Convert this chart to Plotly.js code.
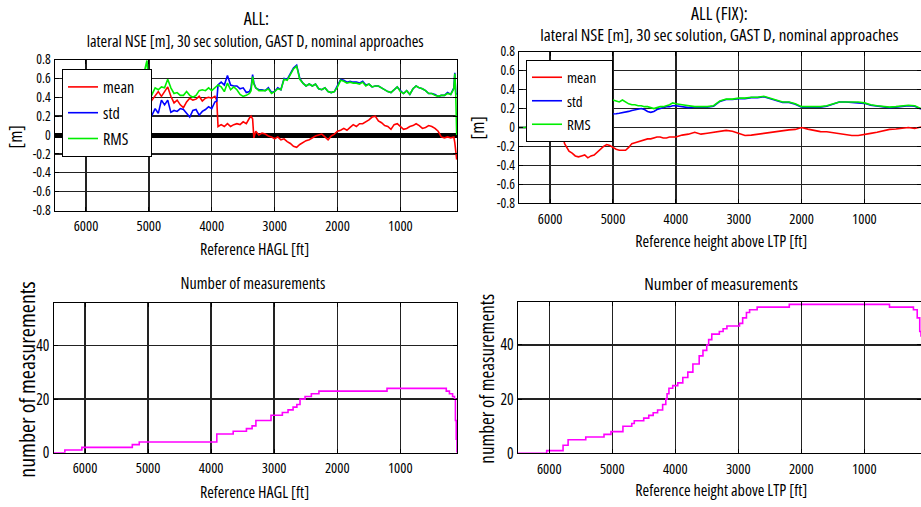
<!DOCTYPE html>
<html>
<head>
<meta charset="utf-8">
<script src="https://cdn.plot.ly/plotly-3.0.1.min.js"></script>
<style>
  html, body { margin: 0; padding: 0; background: #fff; }
  #chart { width: 921px; height: 507px; }
  /* narrow lettering for every label of the figure */
  #chart text { font-stretch: condensed; }
</style>
</head>
<body>
<div id="chart"></div>
<script>
// ---- ALL: lateral NSE statistics versus reference HAGL [ft] ----
const allFt = [
  5090, 5060, 5030, 5000, 4950, 4900, 4850, 4800, 4750, 4700,
  4650, 4600, 4550, 4500, 4450, 4400, 4350, 4300, 4250, 4200,
  4150, 4100, 4050, 4000, 3950, 3920, 3900, 3850, 3800, 3750,
  3700, 3650, 3600, 3550, 3500, 3450, 3400, 3375, 3350, 3330,
  3300, 3250, 3200, 3150, 3100, 3050, 3000, 2950, 2900, 2850,
  2800, 2750, 2700, 2650, 2600, 2550, 2500, 2450, 2400, 2350,
  2300, 2250, 2200, 2150, 2100, 2050, 2000, 1950, 1900, 1850,
  1800, 1750, 1700, 1650, 1600, 1550, 1500, 1450, 1400, 1350,
  1300, 1250, 1200, 1150, 1100, 1050, 1000, 950, 900, 850,
  800, 750, 700, 650, 600, 550, 500, 450, 400, 350,
  300, 250, 200, 150, 135, 120, 105
];
const allMean = [
  0.55, 0.52, 0.45, 0.32, 0.37, 0.42, 0.46, 0.41, 0.46, 0.51,
  0.41, 0.34, 0.37, 0.32, 0.29, 0.35, 0.39, 0.37, 0.38, 0.41,
  0.36, 0.39, 0.40, 0.39, 0.41, 0.37, 0.09, 0.11, 0.09, 0.12,
  0.09, 0.11, 0.12, 0.11, 0.14, 0.12, 0.18, 0.20, 0.17, -0.03,
  0.04, 0.00, 0.02, 0.01, -0.01, -0.02, -0.04, -0.02, -0.05, -0.04,
  -0.07, -0.09, -0.12, -0.13, -0.10, -0.08, -0.06, -0.05, -0.03, -0.01,
  0.00, 0.01, -0.02, -0.05, -0.01, 0.01, 0.04, 0.05, 0.07, 0.05,
  0.08, 0.11, 0.09, 0.12, 0.12, 0.14, 0.16, 0.19, 0.20, 0.15,
  0.13, 0.10, 0.09, 0.06, 0.11, 0.12, 0.09, 0.06, 0.07, 0.09,
  0.10, 0.12, 0.10, 0.07, 0.08, 0.10, 0.09, 0.07, 0.04, -0.02,
  -0.03, -0.02, -0.03, -0.02, -0.08, -0.20, -0.26
];
const allStd = [
  0.30, 0.26, 0.22, 0.24, 0.21, 0.28, 0.23, 0.37, 0.32, 0.37,
  0.24, 0.26, 0.25, 0.28, 0.27, 0.23, 0.19, 0.26, 0.27, 0.21,
  0.25, 0.27, 0.30, 0.28, 0.35, 0.36, 0.53, 0.56, 0.53, 0.63,
  0.53, 0.52, 0.52, 0.49, 0.50, 0.45, 0.46, 0.50, 0.64, 0.55,
  0.50, 0.48, 0.48, 0.47, 0.50, 0.45, 0.46, 0.50, 0.48, 0.60,
  0.59, 0.65, 0.71, 0.74, 0.60, 0.55, 0.52, 0.54, 0.52, 0.54,
  0.49, 0.48, 0.50, 0.46, 0.45, 0.46, 0.52, 0.59, 0.58, 0.56,
  0.57, 0.56, 0.56, 0.55, 0.57, 0.53, 0.54, 0.51, 0.52, 0.52,
  0.50, 0.48, 0.46, 0.45, 0.48, 0.51, 0.47, 0.44, 0.47, 0.43,
  0.49, 0.52, 0.50, 0.49, 0.47, 0.44, 0.44, 0.43, 0.41, 0.42,
  0.42, 0.45, 0.43, 0.50, 0.66, 0.44, 0.43
];
const allRms = [
  0.62, 0.70, 0.79, 0.47, 0.43, 0.50, 0.48, 0.51, 0.50, 0.59,
  0.50, 0.44, 0.45, 0.42, 0.42, 0.46, 0.42, 0.40, 0.42, 0.47,
  0.48, 0.47, 0.50, 0.47, 0.50, 0.52, 0.53, 0.51, 0.46, 0.55,
  0.48, 0.51, 0.48, 0.43, 0.41, 0.42, 0.44, 0.47, 0.62, 0.54,
  0.50, 0.47, 0.47, 0.47, 0.49, 0.44, 0.46, 0.49, 0.48, 0.59,
  0.58, 0.64, 0.70, 0.73, 0.59, 0.55, 0.52, 0.54, 0.52, 0.54,
  0.49, 0.48, 0.50, 0.46, 0.45, 0.46, 0.51, 0.58, 0.57, 0.55,
  0.56, 0.55, 0.55, 0.54, 0.56, 0.52, 0.54, 0.51, 0.52, 0.52,
  0.50, 0.48, 0.46, 0.45, 0.48, 0.51, 0.46, 0.44, 0.47, 0.43,
  0.49, 0.52, 0.50, 0.49, 0.47, 0.44, 0.44, 0.42, 0.41, 0.42,
  0.42, 0.44, 0.43, 0.49, 0.65, 0.43, 0.00
];

// ---- ALL (FIX): lateral NSE statistics versus height above LTP [ft] ----
const fixFt = [
  6500, 6400, 6300, 6200, 6100, 6070, 6030, 6000, 5950, 5900,
  5850, 5800, 5770, 5700, 5650, 5600, 5550, 5500, 5450, 5400,
  5350, 5300, 5250, 5200, 5150, 5100, 5050, 5000, 4950, 4900,
  4850, 4800, 4750, 4700, 4650, 4600, 4550, 4500, 4450, 4400,
  4350, 4300, 4250, 4200, 4150, 4100, 4050, 4000, 3900, 3800,
  3700, 3600, 3500, 3400, 3300, 3200, 3100, 3000, 2900, 2800,
  2700, 2600, 2500, 2400, 2300, 2200, 2100, 2000, 1900, 1800,
  1700, 1600, 1500, 1400, 1300, 1200, 1100, 1000, 900, 800,
  700, 600, 500, 400, 300, 200, 100
];
const fixMean = [
  0, 0, 0, 0, -0.02, -0.08, -0.10, -0.07, -0.03, -0.01,
  -0.03, -0.08, -0.17, -0.25, -0.27, -0.30, -0.31, -0.30, -0.29, -0.32,
  -0.30, -0.29, -0.26, -0.22, -0.20, -0.18, -0.19, -0.21, -0.23, -0.24,
  -0.24, -0.24, -0.21, -0.17, -0.16, -0.15, -0.14, -0.13, -0.12, -0.12,
  -0.11, -0.10, -0.10, -0.11, -0.11, -0.10, -0.10, -0.10, -0.08, -0.07,
  -0.05, -0.07, -0.06, -0.05, -0.04, -0.03, -0.04, -0.06, -0.085, -0.08,
  -0.07, -0.065, -0.05, -0.045, -0.035, -0.025, -0.02, 0.0, -0.017, -0.033,
  -0.043, -0.045, -0.055, -0.065, -0.075, -0.085, -0.085, -0.07, -0.062, -0.05,
  -0.035, -0.02, -0.015, -0.01, 0.0, -0.01, 0.005
];
const fixStd = [
  0, 0, 0, 0.03, 0.06, 0.07, 0.08, 0.09, 0.10, 0.11,
  0.12, 0.12, 0.12, 0.12, 0.13, 0.13, 0.13, 0.13, 0.13, 0.13,
  0.13, 0.14, 0.14, 0.14, 0.14, 0.14, 0.14, 0.14, 0.145, 0.15,
  0.155, 0.16, 0.17, 0.18, 0.185, 0.19, 0.20, 0.19, 0.17, 0.16,
  0.17, 0.19, 0.20, 0.21, 0.22, 0.22, 0.23, 0.23, 0.22, 0.21,
  0.215, 0.215, 0.215, 0.225, 0.275, 0.295, 0.295, 0.305, 0.305, 0.315,
  0.315, 0.325, 0.305, 0.285, 0.265, 0.265, 0.245, 0.215, 0.215, 0.215,
  0.215, 0.225, 0.245, 0.27, 0.27, 0.265, 0.265, 0.255, 0.235, 0.225,
  0.215, 0.21, 0.215, 0.225, 0.23, 0.225, 0.195
];
const fixRms = [
  0, 0, 0.02, 0.08, 0.12, 0.14, 0.16, 0.18, 0.20, 0.22,
  0.24, 0.26, 0.28, 0.31, 0.32, 0.33, 0.34, 0.34, 0.33, 0.34,
  0.33, 0.32, 0.31, 0.30, 0.29, 0.29, 0.29, 0.29, 0.28, 0.27,
  0.29, 0.27, 0.25, 0.24, 0.24, 0.23, 0.23, 0.22, 0.22, 0.21,
  0.20, 0.21, 0.22, 0.22, 0.23, 0.24, 0.26, 0.25, 0.24, 0.23,
  0.22, 0.22, 0.22, 0.23, 0.28, 0.30, 0.30, 0.31, 0.31, 0.32,
  0.32, 0.33, 0.31, 0.29, 0.27, 0.27, 0.25, 0.22, 0.22, 0.22,
  0.22, 0.23, 0.25, 0.27, 0.27, 0.27, 0.27, 0.26, 0.24, 0.23,
  0.22, 0.215, 0.22, 0.23, 0.235, 0.23, 0.20
];

// ---- number of measurements (step changes) ----
const countAllFt = [
  6500, 6320, 6050, 5250, 5140, 3910, 3650, 3440, 3350, 3290,
  3050, 2870, 2780, 2700, 2640, 2590, 2510, 2410, 2290, 1210,
  270, 220, 170, 140, 125, 112, 100
];
const countAll = [
  0, 1, 2, 3, 4, 7, 8, 9, 10, 12,
  14, 15, 16, 17, 18, 20, 21, 22, 23, 24,
  23, 22, 21, 20, 12, 5, 0
];
const countFixFt = [
  6500, 6040, 5780, 5700, 5420, 5130, 5020, 4830, 4690, 4650,
  4500, 4420, 4350, 4280, 4200, 4150, 4130, 4100, 4040, 3960,
  3880, 3800, 3720, 3620, 3560, 3500, 3470, 3420, 3300, 3240,
  3180, 2980, 2930, 2870, 2820, 2700, 2190, 600, 220, 160,
  120, 100
];
const countFix = [
  0, 1, 3, 5, 6, 7, 8, 10, 11, 12,
  13, 14, 15, 16, 18, 20, 22, 24, 25, 26,
  28, 30, 33, 36, 38, 40, 42, 44, 45, 46,
  47, 48, 50, 52, 53, 54, 55, 54, 53, 50,
  45, 43
];

// ---- tick labels ----
const heightTicks = [6000, 5000, 4000, 3000, 2000, 1000];
const heightLabels = ['6000', '5000', '4000', '3000', '2000', '1000'];
const nseTicks = [-0.8, -0.6, -0.4, -0.2, 0, 0.2, 0.4, 0.6, 0.8];
const nseLabels = ['-0.8', '-0.6', '-0.4', '-0.2', '0', '0.2', '0.4', '0.6', '0.8'];
const countTicks = [0, 20, 40];
const countLabels = ['0', '20', '40'];

const FONT = "'Open Sans', sans-serif";
const RED = '#ff0000', BLUE = '#0000ff', GREEN = '#00ee00', MAGENTA = '#ff00ff';

function statTrace(x, y, name, color, xa, ya, legend, grp) {
  return {
    type: 'scatter', mode: 'lines', x: x, y: y, name: name,
    line: { color: color, width: 1.6 },
    xaxis: xa, yaxis: ya, legend: legend, legendgroup: grp,
    hoverinfo: 'skip'
  };
}

const data = [
  statTrace(allFt, allMean, 'mean', RED,  'x', 'y', 'legend', 'a1'),
  statTrace(allFt, allStd,  'std',  BLUE, 'x', 'y', 'legend', 'a2'),
  statTrace(allFt, allRms,  'RMS',  GREEN,'x', 'y', 'legend', 'a3'),
  statTrace(fixFt, fixMean, 'mean', RED,  'x2', 'y2', 'legend2', 'b1'),
  statTrace(fixFt, fixStd,  'std',  BLUE, 'x2', 'y2', 'legend2', 'b2'),
  statTrace(fixFt, fixRms,  'RMS',  GREEN,'x2', 'y2', 'legend2', 'b3'),
  { type: 'scatter', mode: 'lines', x: countAllFt, y: countAll, line: { color: MAGENTA, width: 1.6, shape: 'hv' },
    xaxis: 'x3', yaxis: 'y3', showlegend: false, hoverinfo: 'skip' },
  { type: 'scatter', mode: 'lines', x: countFixFt, y: countFix, line: { color: MAGENTA, width: 1.6, shape: 'hv' },
    xaxis: 'x4', yaxis: 'y4', showlegend: false, hoverinfo: 'skip' }
];

const axisBase = {
  showline: true, linecolor: '#000', linewidth: 1, mirror: 'ticks',
  ticks: 'inside', ticklen: 4, tickcolor: '#000', tickwidth: 1,
  showgrid: true, gridcolor: '#222', gridwidth: 1.4,
  zeroline: false, fixedrange: true
};

function xAxis(domain, anchor) {
  return Object.assign({}, axisBase, {
    domain: domain, anchor: anchor, range: [6500, 100],
    tickmode: 'array', tickvals: heightTicks, ticktext: heightLabels,
    tickfont: { family: FONT, size: 14.5, color: '#000' }, ticklabelstandoff: 2
  });
}
function yAxis(domain, anchor, range, vals, labels, size) {
  return Object.assign({}, axisBase, {
    domain: domain, anchor: anchor, range: range,
    tickmode: 'array', tickvals: vals, ticktext: labels,
    tickfont: { family: FONT, size: size, color: '#000' }
  });
}

function label(text, x, y, size, angle) {
  return {
    text: text, xref: 'paper', yref: 'paper', x: x / 921, y: 1 - y / 507,
    xanchor: 'center', yanchor: 'middle', showarrow: false, textangle: angle || 0,
    font: { family: FONT, size: size, color: '#000' }
  };
}

const layout = {
  width: 921, height: 507,
  margin: { l: 0, r: 0, t: 0, b: 0, pad: 0 },
  paper_bgcolor: '#fff', plot_bgcolor: '#fff',
  font: { family: FONT, color: '#000' },
  xaxis:  xAxis([0.0592, 0.4962], 'y'),
  yaxis:  Object.assign(yAxis([0.5848, 0.8826], 'x', [-0.8, 0.8], nseTicks, nseLabels, 13.5),
                        { zeroline: true, zerolinecolor: '#000', zerolinewidth: 5 }),
  xaxis2: xAxis([0.5632, 1.0], 'y2'),
  yaxis2: yAxis([0.599, 0.898], 'x2', [-0.8, 0.8], nseTicks, nseLabels, 13.5),
  xaxis3: xAxis([0.0581, 0.4962], 'y3'),
  yaxis3: yAxis([0.1071, 0.403], 'x3', [0, 56], countTicks, countLabels, 15.5),
  xaxis4: xAxis([0.5621, 1.0], 'y4'),
  yaxis4: yAxis([0.1059, 0.405], 'x4', [0, 56], countTicks, countLabels, 15.5),
  legend: {
    x: 62 / 921, y: 1 - 69 / 507, xanchor: 'left', yanchor: 'top',
    bgcolor: '#fff', bordercolor: '#000', borderwidth: 1,
    font: { family: FONT, size: 16, color: '#000' },
    traceorder: 'grouped', tracegroupgap: 2, itemwidth: 30
  },
  legend2: {
    x: 526 / 921, y: 1 - 60 / 507, xanchor: 'left', yanchor: 'top',
    bgcolor: '#fff', bordercolor: '#000', borderwidth: 1,
    font: { family: FONT, size: 15, color: '#000' },
    traceorder: 'grouped', tracegroupgap: 1, itemwidth: 30
  },
  annotations: [
    label('ALL:', 256, 18, 18),
    label('lateral NSE [m], 30 sec solution, GAST D, nominal approaches', 255, 41, 16),
    label('ALL (FIX):', 719, 13, 18),
    label('lateral NSE [m], 30 sec solution, GAST D, nominal approaches', 719, 34, 17),
    label('Reference HAGL [ft]', 254, 249, 16),
    label('Reference height above LTP [ft]', 721, 241, 16),
    label('Number of measurements', 253, 283, 16),
    label('Number of measurements', 721, 283, 17),
    label('Reference HAGL [ft]', 254, 492, 16),
    label('Reference height above LTP [ft]', 721, 490, 16),
    label('[m]', 15, 137, 18, -90),
    label('[m]', 477, 128, 18, -90),
    label('number of measurements', 26, 380, 22, -90),
    label('number of measurements', 487, 379, 19, -90)
  ]
};

Plotly.newPlot('chart', data, layout, { staticPlot: true, displayModeBar: false });
</script>
</body>
</html>
